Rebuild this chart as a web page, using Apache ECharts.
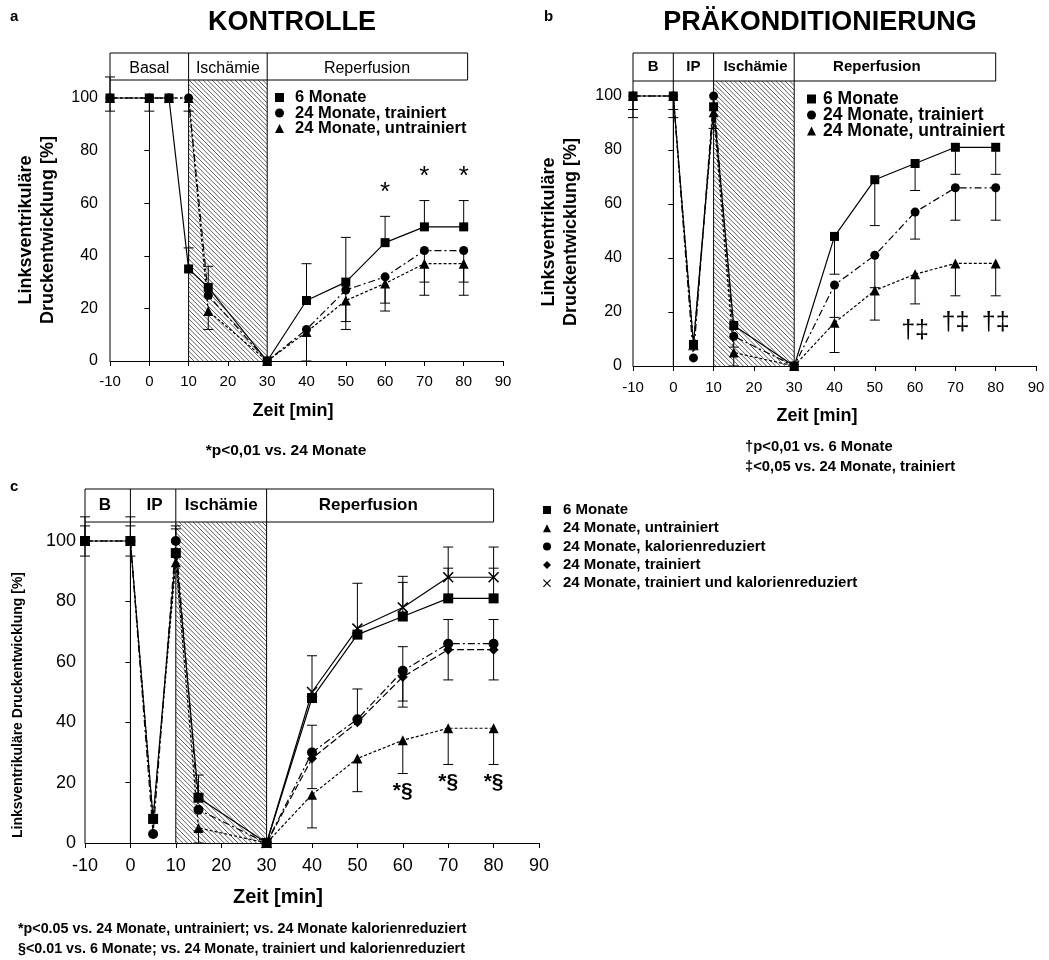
<!DOCTYPE html>
<html>
<head>
<meta charset="utf-8">
<script src="https://cdn.jsdelivr.net/npm/echarts@6/dist/echarts.min.js"></script>
<style>
  html, body { margin: 0; padding: 0; background: #fff; }
  #chart { width: 1049px; height: 960px; }
</style>
</head>
<body>
<div id="chart"></div>
<script>
const FONT = '"Liberation Sans", Arial, Helvetica, sans-serif';

// ---- Panel a: Kontrolle ----
const timeA = [-10, 0, 5, 10, 15, 30, 40, 50, 60, 70, 80];
const ctrl6 = [100, 100, 100, 35, 28, 0, 23, 30, 45, 51, 51];
const ctrl24t = [100, 100, 100, 100, 25, 0, 12, 27, 32, 42, 42];
const ctrl24u = [100, 100, 100, 100, 19, 0, 11, 23, 29.5, 37, 37];
// error bars: [time, mean, bar end]
const ctrlErr = [
  [-10, 100, 95], [-10, 100, 108], [0, 100, 95], [10, 100, 95], [10, 35, 43],
  [15, 28, 36], [15, 19, 12],
  [40, 23, 37], [40, 11, 0],
  [50, 30, 47], [50, 27, 15], [50, 23, 12],
  [60, 45, 55], [60, 32, 22], [60, 29.5, 19],
  [70, 51, 61], [70, 42, 30], [70, 37, 25],
  [80, 51, 61], [80, 42, 30], [80, 37, 25]
];
const ctrlSigTimes = [60, 70, 80];
const ctrlPhases = ['Basal', 'Ischämie', 'Reperfusion'];
const ctrlBounds = [-10, 10, 30, 81];

// ---- Panel b: Präkonditionierung ----
const timeB = [-10, 0, 5, 10, 15, 30, 40, 50, 60, 70, 80];
const pre6 = [100, 100, 8, 96, 15, 0, 48, 69, 75, 81, 81];
const pre24t = [100, 100, 3, 100, 11, 0, 30, 41, 57, 66, 66];
const pre24u = [100, 100, 8, 94, 5, 0, 16, 28, 34, 38, 38];
const preErr = [
  [-10, 100, 95], [-10, 100, 92], [0, 100, 95], [0, 100, 92],
  [5, 8, 6], [10, 96, 88],
  [15, 11, 7], [15, 5, 0],
  [40, 48, 34], [40, 30, 18], [40, 16, 5],
  [50, 69, 52], [50, 41, 29], [50, 28, 17],
  [60, 75, 65], [60, 57, 47], [60, 34, 23],
  [70, 81, 71], [70, 66, 54], [70, 38, 26],
  [80, 81, 71], [80, 66, 54], [80, 38, 26]
];
const preSigTimes = [60, 70, 80];
const prePhases = ['B', 'IP', 'Ischämie', 'Reperfusion'];
const preBounds = [-10, 0, 10, 30, 80];

// ---- Panel c: Gruppenvergleich ----
const timeC = [-10, 0, 5, 10, 15, 30, 40, 50, 60, 70, 80];
const grp6 = [100, 100, 8, 96, 15, 0, 48, 69, 75, 81, 81];
const grp24u = [100, 100, 8, 93, 5, 0, 16, 28, 34, 38, 38];
const grp24k = [100, 100, 3, 100, 11, 0, 30, 41, 57, 66, 66];
const grp24t = [null, null, null, null, null, 0, 28, 40, 55, 64, 64];
const grp24tk = [null, null, null, null, null, 0, 50, 71, 78, 88, 88];
const grpErr = [
  [-10, 100, 108], [-10, 100, 105], [-10, 100, 95],
  [0, 100, 108], [0, 100, 105], [0, 100, 95],
  [10, 100, 105], [10, 100, 104],
  [15, 15, 22.5], [15, 5, 4], [15, 5, 0],
  [40, 50, 62], [40, 30, 39], [40, 28, 18], [40, 16, 5],
  [50, 71, 86], [50, 41, 51], [50, 28, 17],
  [60, 78, 88.3], [60, 75, 86.3], [60, 57, 65], [60, 57, 47], [60, 55, 45], [60, 34, 23],
  [70, 88, 98], [70, 81, 91], [70, 66, 74], [70, 64, 54], [70, 38, 26],
  [80, 88, 98], [80, 81, 91], [80, 66, 74], [80, 64, 54], [80, 38, 26]
];
const grpSigTimes = [60, 70, 80];
const grpPhases = ['B', 'IP', 'Ischämie', 'Reperfusion'];
const grpBounds = [-10, 0, 10, 30, 80];

const xTicks = { min: -10, max: 90, interval: 10 };
const yTicks = { min: 0, max: 100, interval: 20 };

// ---- drawing helpers ----
const BLACK = '#000';
const DASH_DOT = [7, 3, 2, 3];
const DOTTED = [3, 2];
const DASHED = [7, 3];
const XMARK = 'path://M0,1L1,0L5,4L9,0L10,1L6,5L10,9L9,10L5,6L1,10L0,9L4,5Z';

function lineSeries(name, gi, times, vals, symbol, size, dash) {
  return {
    type: 'line', name, xAxisIndex: gi, yAxisIndex: gi,
    data: times.map((t, i) => [t, vals[i]]).filter(d => d[1] != null),
    symbol, symbolSize: size, showSymbol: true, clip: false, z: 4,
    lineStyle: { color: BLACK, width: 1.2, type: dash },
    itemStyle: { color: BLACK },
    emphasis: { disabled: true }, animation: false
  };
}

function errSeries(gi, errs, cap) {
  return {
    type: 'custom', xAxisIndex: gi, yAxisIndex: gi, silent: true, z: 3, clip: false,
    data: errs, encode: { x: 0, y: [1, 2] }, animation: false,
    renderItem(params, api) {
      const p1 = api.coord([api.value(0), api.value(1)]);
      const p2 = api.coord([api.value(0), api.value(2)]);
      return {
        type: 'group', children: [
          { type: 'line', shape: { x1: p1[0], y1: p1[1], x2: p2[0], y2: p2[1] }, style: { stroke: BLACK, lineWidth: 1 } },
          { type: 'line', shape: { x1: p2[0] - cap, y1: p2[1], x2: p2[0] + cap, y2: p2[1] }, style: { stroke: BLACK, lineWidth: 1 } }
        ]
      };
    }
  };
}

// significance marks placed just above / below the error bars at that time
function sigSeries(gi, times, errs, text, side, offset, fontSize, weight) {
  const pts = times.map(t => {
    const ends = errs.filter(e => e[0] === t).map(e => e[2]);
    const y = side > 0 ? Math.max(...ends) + offset : Math.min(...ends) - offset;
    return [t, y];
  });
  return {
    type: 'custom', xAxisIndex: gi, yAxisIndex: gi, silent: true, z: 5, clip: false,
    data: pts, animation: false,
    renderItem(params, api) {
      const p = api.coord([api.value(0), api.value(1)]);
      return {
        type: 'text', x: p[0], y: p[1],
        style: { text, fill: BLACK, font: `${weight} ${fontSize}px ${FONT}`, align: 'center', verticalAlign: 'middle' }
      };
    }
  };
}

// header box with phase names, phase separators and the hatched ischaemia band
function phaseSeries(gi, names, bounds, lay) {
  return {
    type: 'custom', xAxisIndex: gi, yAxisIndex: gi, silent: true, z: 1, clip: false,
    data: [[bounds[0], 0]], animation: false,
    renderItem(params, api) {
      const ch = [];
      const y0 = api.coord([0, 0])[1];
      const y100 = api.coord([0, 100])[1];
      const bb = y100 - lay.gap;
      const bt = bb - lay.height;
      const xs = bounds.map(v => api.coord([v, 0])[0]);
      const ln = (x1, y1, x2, y2, w, c) => ch.push({ type: 'line', shape: { x1, y1, x2, y2 }, style: { stroke: c || BLACK, lineWidth: w || 1 } });
      // hatching of the ischaemia phase
      const ii = names.indexOf('Ischämie');
      const hx0 = xs[ii], hx1 = xs[ii + 1];
      const step = 4.6;
      for (let c = bb - hx1; c <= y0 - hx0; c += step) {
        const xa = Math.max(hx0, bb - c), xb = Math.min(hx1, y0 - c);
        if (xa < xb) ln(xa, xa + c, xb, xb + c, 0.8, '#333');
      }
      // separators from the axis up to the box
      lay.drops.forEach(v => { const x = api.coord([v, 0])[0]; ln(x, y0, x, bb, 1); });
      // box
      ch.push({ type: 'rect', shape: { x: xs[0], y: bt, width: xs[xs.length - 1] - xs[0], height: bb - bt }, style: { stroke: BLACK, fill: null, lineWidth: 1 } });
      for (let i = 1; i < xs.length - 1; i++) ln(xs[i], bt, xs[i], bb, 1);
      names.forEach((n, i) => {
        const cx = lay.labelAt ? api.coord([lay.labelAt[i], 0])[0] : (xs[i] + xs[i + 1]) / 2;
        ch.push({ type: 'text', x: cx, y: (bt + bb) / 2 + lay.textDy,
          style: { text: n, fill: BLACK, font: `${lay.weight} ${lay.fontSize}px ${FONT}`, align: 'center', verticalAlign: 'middle' } });
      });
      return { type: 'group', children: ch };
    }
  };
}

function xAxis(gi, fs, margin) {
  return {
    type: 'value', gridIndex: gi, ...xTicks,
    axisLine: { show: true, onZero: false, lineStyle: { color: BLACK, width: 1 } },
    axisTick: { show: true, inside: false, length: 5, lineStyle: { color: BLACK } },
    axisLabel: { color: BLACK, fontSize: fs, fontFamily: FONT, margin },
    splitLine: { show: false }
  };
}
function yAxis(gi, fs, margin) {
  return {
    type: 'value', gridIndex: gi, ...yTicks,
    axisLine: { show: true, lineStyle: { color: BLACK, width: 1 } },
    axisTick: { show: true, inside: false, length: 5, lineStyle: { color: BLACK } },
    axisLabel: { color: BLACK, fontSize: fs, fontFamily: FONT, margin },
    splitLine: { show: false }
  };
}

function legend(left, top, items, fs, size, gap, pad) {
  return {
    left, top, padding: 0, orient: 'vertical', selectedMode: false,
    itemWidth: size, itemHeight: size, itemGap: gap,
    textStyle: { color: BLACK, fontSize: fs, fontWeight: 'bold', fontFamily: FONT, padding: [0, 0, 0, pad] },
    data: items.map(([name, icon]) => ({ name, icon, itemStyle: { color: BLACK } }))
  };
}

function text(x, y, t, fs, opts = {}) {
  return {
    type: 'text', x, y, rotation: opts.rot || 0,
    style: { text: t, fill: BLACK, font: `${opts.weight || 'bold'} ${fs}px ${opts.family || FONT}`,
      align: opts.align || 'center', verticalAlign: 'middle', lineHeight: opts.lh || fs * 1.2 }
  };
}

const chart = echarts.init(document.getElementById('chart'), null, { renderer: 'canvas' });

const option = {
  backgroundColor: '#fff',
  animation: false,
  grid: [
    { left: 110, top: 98, width: 393, height: 263 },
    { left: 633, top: 96, width: 403, height: 270 },
    { left: 85, top: 541, width: 454, height: 302 }
  ],
  xAxis: [xAxis(0, 15, 13), xAxis(1, 15, 14), xAxis(2, 18, 14)],
  yAxis: [yAxis(0, 16, 12), yAxis(1, 16, 11), yAxis(2, 18, 9)],
  legend: [
    legend(275, 89, [['6 Monate', 'rect'], ['24 Monate, trainiert', 'circle'], ['24 Monate, untrainiert', 'triangle']], 16.5, 9, -1.5, 6),
    legend(807, 90, [['6 Monate', 'rect'], ['24 Monate, trainiert', 'circle'], ['24 Monate, untrainiert', 'triangle']], 17.5, 9, -2, 2),
    legend(543, 502.5, [['6 Monate', 'rect'], ['24 Monate, untrainiert', 'triangle'], ['24 Monate, kalorienreduziert', 'circle'],
      ['24 Monate, trainiert', 'diamond'], ['24 Monate, trainiert und kalorienreduziert', XMARK]], 15, 8, 3.3, 7)
  ],
  series: [
    phaseSeries(0, ctrlPhases, ctrlBounds, { gap: 18, height: 27, drops: [-10, 10, 30], weight: 'normal', fontSize: 16, textDy: 2, labelAt: [0, 20, 55.4] }),
    errSeries(0, ctrlErr, 5),
    lineSeries('24 Monate, untrainiert', 0, timeA, ctrl24u, 'triangle', 10, DOTTED),
    lineSeries('24 Monate, trainiert', 0, timeA, ctrl24t, 'circle', 9, DASH_DOT),
    lineSeries('6 Monate', 0, timeA, ctrl6, 'rect', 9, 'solid'),
    sigSeries(0, ctrlSigTimes, ctrlErr, '*', 1, 9, 26, 'normal'),

    phaseSeries(1, prePhases, preBounds, { gap: 15, height: 28, drops: [-10, 0, 10, 30], weight: 'bold', fontSize: 15, textDy: 0, labelAt: [-5, 5, 20.4, 50.5] }),
    errSeries(1, preErr, 5),
    lineSeries('24 Monate, untrainiert', 1, timeB, pre24u, 'triangle', 10, DOTTED),
    lineSeries('24 Monate, trainiert', 1, timeB, pre24t, 'circle', 9, DASH_DOT),
    lineSeries('6 Monate', 1, timeB, pre6, 'rect', 9, 'solid'),
    sigSeries(1, preSigTimes, preErr, '†‡', -1, 10, 25, 'normal'),

    phaseSeries(2, grpPhases, grpBounds, { gap: 19, height: 33, drops: [-10, 0, 10, 30], weight: 'bold', fontSize: 17, textDy: 0, labelAt: [-5.6, 5.3, 20, 52.4] }),
    errSeries(2, grpErr, 5),
    lineSeries('24 Monate, untrainiert', 2, timeC, grp24u, 'triangle', 10, DOTTED),
    lineSeries('24 Monate, trainiert', 2, timeC, grp24t, 'diamond', 10, DASHED),
    lineSeries('24 Monate, kalorienreduziert', 2, timeC, grp24k, 'circle', 10, DASH_DOT),
    lineSeries('24 Monate, trainiert und kalorienreduziert', 2, timeC, grp24tk, XMARK, 11, 'solid'),
    lineSeries('6 Monate', 2, timeC, grp6, 'rect', 10, 'solid'),
    sigSeries(2, grpSigTimes, grpErr, '*§', -1, 6, 21, 'bold')
  ],
  graphic: [
    text(10, 17, 'a', 15, { align: 'left' }),
    text(292, 23, 'KONTROLLE', 27),
    text(544, 17, 'b', 15, { align: 'left' }),
    text(820, 23, 'PRÄKONDITIONIERUNG', 27),
    text(10, 487, 'c', 15, { align: 'left' }),

    text(37, 230, 'Linksventrikuläre\nDruckentwicklung [%]', 18, { rot: Math.PI / 2, lh: 22 }),
    text(560, 232, 'Linksventrikuläre\nDruckentwicklung [%]', 18, { rot: Math.PI / 2, lh: 22 }),
    text(18, 705, 'Linksventrikuläre Druckentwicklung [%]', 14, { rot: Math.PI / 2 }),

    text(293, 411, 'Zeit [min]', 18),
    text(817, 416, 'Zeit [min]', 18),
    text(278, 897, 'Zeit [min]', 20),

    text(286, 451, '*p<0,01 vs. 24 Monate', 15.5),
    text(745, 447, '†p<0,01 vs. 6 Monate', 14.8, { align: 'left' }),
    text(745, 467, '‡<0,05 vs. 24 Monate, trainiert', 14.8, { align: 'left' }),
    text(18, 929, '*p<0.05 vs. 24 Monate, untrainiert; vs. 24 Monate kalorienreduziert', 14.3, { align: 'left' }),
    text(18, 949, '§<0.01 vs. 6 Monate; vs. 24 Monate, trainiert und kalorienreduziert', 14.3, { align: 'left' })
  ]
};

chart.setOption(option);
</script>
</body>
</html>
